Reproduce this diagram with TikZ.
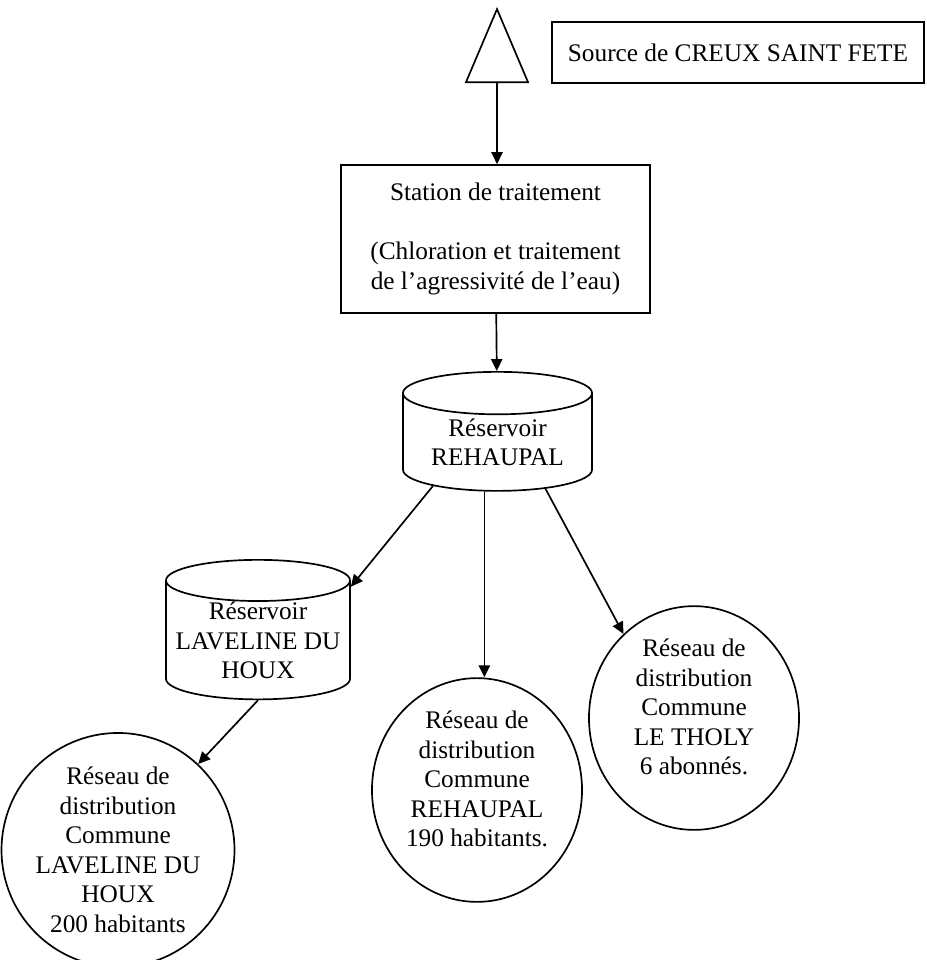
\documentclass[tikz,border=0pt]{standalone}
\usepackage{fontspec}
\setmainfont{Liberation Serif}
\usetikzlibrary{arrows.meta,shapes.geometric,positioning}

\begin{document}
\begin{tikzpicture}[x=0.025cm, y=-0.025cm, line width=1.2pt,
    every node/.style={font=\fontsize{18}{21}\selectfont, align=center, inner sep=0pt},
    flow/.style={-{Triangle[length=8.5pt, width=8pt]}},
    box/.style={draw, rectangle},
    tank/.style={draw, cylinder, shape border rotate=90, anchor=north},
    net/.style={draw, ellipse, minimum width=5.25cm, minimum height=5.5cm}]
  \useasboundingbox (0,0) rectangle (927,960);
  % Source and treatment
  \node[draw, isosceles triangle, isosceles triangle stretches, shape border rotate=90,
        minimum width=1.55cm, minimum height=1.825cm, anchor=lower side] (peak) at (497,83) {};
  \node[box, minimum width=9.3cm, minimum height=1.525cm] (source) at (738,52.5) {Source de CREUX SAINT FETE};
  \node[box, minimum width=7.725cm, minimum height=3.7cm] (station) at (495.5,239)
       {Station de traitement\\[21pt](Chloration et traitement\\de l’agressivité de l’eau)};
  % Reservoirs
  \node[tank, aspect=0.32, minimum width=4.725cm, minimum height=2.975cm] (tankR) at (497.5,371) {Réservoir\\REHAUPAL};
  \node[tank, aspect=0.25, minimum width=4.6cm, minimum height=3.4cm] (tankL) at (258,559) {Réservoir\\LAVELINE DU\\HOUX};
  % Distribution networks
  \node[net] (netL) at (118,850) {Réseau de\\distribution\\Commune\\LAVELINE DU\\HOUX\\200 habitants};
  \node[net] (netR) at (477,790) {Réseau de\\distribution\\Commune\\REHAUPAL\\190 habitants.\\[-5pt]\mbox{}};
  \node[net] (netT) at (694,718) {Réseau de\\distribution\\Commune\\LE THOLY\\6 abonnés.\\[-5pt]\mbox{}};
  % Flows
  \draw[flow] (peak.lower side) -- (peak.lower side |- station.north);
  \draw[flow] (station) -- (tankR);
  \draw[flow] (tankR.214) -- (tankL.30);
  \draw[flow] (tankR.255) -- (tankR.255 |- netR.north);
  \draw[flow] (tankR.316) -- (netT.130);
  \draw[flow] (tankL.south) -- (netL.47);
\end{tikzpicture}
\end{document}
